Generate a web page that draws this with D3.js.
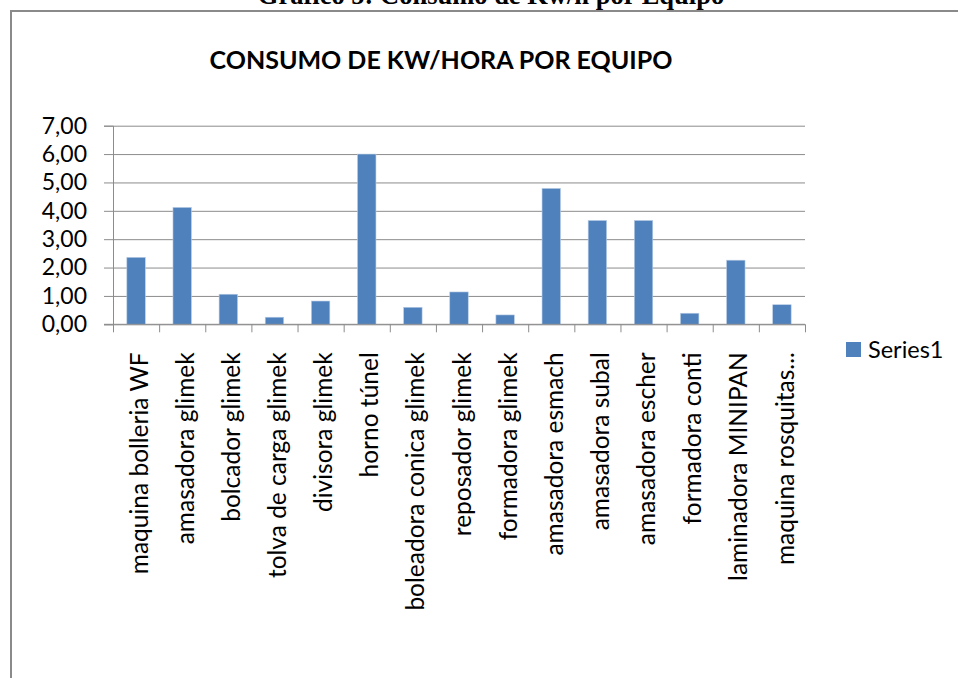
<!DOCTYPE html>
<meta charset="utf-8">
<style>
  body { margin: 0; background: white; }
  svg { display: block; }
  .cap { font-family: "Liberation Serif", serif; font-weight: bold; }
  .lbl { font-family: Lato, "Open Sans", sans-serif; fill: #000; }
</style>
<body>
<svg id="chart" width="958" height="678"></svg>
<script src="https://cdn.jsdelivr.net/npm/d3@7"></script>
<script>
// data
var equipos = ["maquina bolleria WF", "amasadora glimek", "bolcador glimek", "tolva de carga glimek",
  "divisora glimek", "horno túnel", "boleadora conica glimek", "reposador glimek", "formadora glimek",
  "amasadora esmach", "amasadora subal", "amasadora escher", "formadora conti", "laminadora MINIPAN",
  "maquina rosquitas..."];
var kwHora = [2.36, 4.12, 1.06, 0.25, 0.82, 6.0, 0.60, 1.14, 0.33, 4.79, 3.66, 3.66, 0.39, 2.26, 0.69];
var yTicks = [0, 1, 2, 3, 4, 5, 6, 7];
var seriesName = "Series1";

var svg = d3.select("#chart");
var blue = "#4f81bd", grid = "#8c8c8c";

// caption above the frame (cut by the page top, as in the source)
svg.append("text").attr("class", "cap")
  .attr("x", 491).attr("y", 4)
  .attr("text-anchor", "middle")
  .style("font-size", "26.5px")
  .text("Gráfico 5: Consumo de Kw/h por Equipo");

// chart frame
svg.append("rect")
  .attr("x", 11).attr("y", 11)
  .attr("width", 1000).attr("height", 700)
  .attr("fill", "white").attr("stroke", "#8a8a8a").attr("stroke-width", 2);

svg.append("text").attr("class", "lbl")
  .attr("x", 441).attr("y", 69)
  .attr("text-anchor", "middle")
  .style("font-size", "25px").style("font-weight", "bold")
  .text("CONSUMO DE KW/HORA POR EQUIPO");

var plotL = 113, plotR = 805, plotT = 125.7, plotB = 324.3;

var x = d3.scaleBand().domain(equipos).range([plotL, plotR]).padding(0);
var xi = d3.scaleLinear().domain([0, equipos.length]).range([plotL, plotR]);
var y = d3.scaleLinear().domain([0, 7]).range([plotB, plotT]);

// gridlines + y labels
var yAxis = svg.append("g")
  .attr("transform", "translate(" + plotL + ",0)")
  .call(d3.axisLeft(y).tickValues(yTicks).tickSize(9).tickPadding(17)
    .tickFormat(d => d3.format(".2f")(d).replace(".", ",")));
yAxis.select(".domain").attr("stroke", grid);
yAxis.selectAll(".tick line").attr("stroke", grid).attr("x2", plotR - plotL).attr("x1", -9);
yAxis.selectAll(".tick text").attr("class", "lbl").style("font-size", "23px").attr("fill", "#000");

// bars
var bw = x.bandwidth() / 2.5;
svg.append("g").selectAll("rect")
  .data(kwHora)
  .join("rect")
  .attr("x", (d, i) => x(equipos[i]) + (x.bandwidth() - bw) / 2)
  .attr("width", bw)
  .attr("y", d => y(d))
  .attr("height", d => y(0) - y(d))
  .attr("fill", blue)
  .attr("stroke", "#b9cde5").attr("stroke-width", 0.6);

// x axis: boundary ticks
var xTickG = svg.append("g")
  .attr("transform", "translate(0," + plotB + ")")
  .call(d3.axisBottom(xi).tickValues(d3.range(equipos.length + 1)).tickSize(8).tickFormat(""));
xTickG.select(".domain").attr("stroke", grid).attr("d", "M" + (plotL - 9) + ",0H" + plotR);
xTickG.selectAll(".tick line").attr("stroke", grid);

// x labels, rotated
var xLab = svg.append("g")
  .attr("transform", "translate(0," + plotB + ")")
  .call(d3.axisBottom(x).tickSize(0));
xLab.select(".domain").remove();
xLab.selectAll(".tick text")
  .attr("class", "lbl")
  .style("font-size", "24.5px")
  .attr("fill", "#000")
  .attr("transform", "rotate(-90)")
  .attr("x", -28).attr("y", 3).attr("dy", "0.35em")
  .style("text-anchor", "end");

// legend
var lg = svg.append("g").attr("transform", "translate(846,342)");
lg.append("rect").attr("width", 15).attr("height", 15).attr("fill", blue);
lg.append("text").attr("class", "lbl")
  .attr("x", 22).attr("y", 7.5).attr("dy", "0.35em")
  .style("font-size", "23.5px")
  .text(seriesName);
</script>
</body>
